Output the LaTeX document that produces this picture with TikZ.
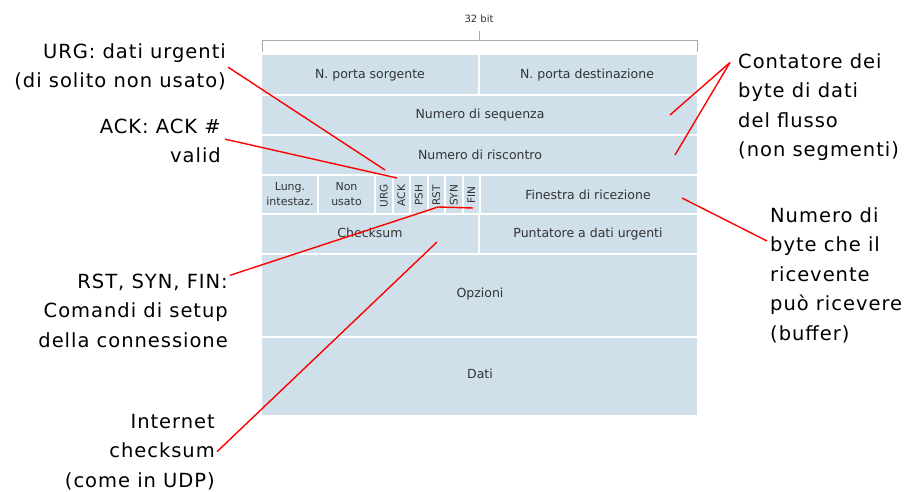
\documentclass[tikz,border=0pt]{standalone}
\usepackage{fontspec}
\newfontfamily\lblfont[LetterSpace=5]{DejaVu Sans}
\newfontfamily\cellfont{DejaVu Sans}
\definecolor{cellblue}{HTML}{CFE0EA}
\definecolor{celltext}{HTML}{333333}
\definecolor{bracketgray}{HTML}{AAAAAA}
\begin{document}
\begin{tikzpicture}[x=1pt,y=-1pt,
  cell/.style={font=\cellfont\fontsize{12.5}{14}\selectfont, text=celltext, inner sep=0},
  smallcell/.style={font=\cellfont\fontsize{11}{15}\selectfont, text=celltext, inner sep=0, align=center},
  flag/.style={font=\cellfont\fontsize{10.5}{11}\selectfont, text=celltext, rotate=90, inner sep=0},
  sep/.style={white, line width=2pt},
  callout/.style={red, line width=1.4pt},
  lbl/.style={font=\lblfont\fontsize{19.5}{29.5}\selectfont, inner sep=0, text=black}
]
\useasboundingbox (0,0) rectangle (911,492);

% segment body
\fill[cellblue] (262,55) rectangle (697,415);
\foreach \y in {95,135,175,214,254,337} \draw[sep] (262,\y) -- (697,\y);
\draw[sep] (479,55) -- (479,95);
\draw[sep] (479,214) -- (479,254);
\foreach \x in {318,375,392.5,410,427.5,445,462.5,480} \draw[sep] (\x,175) -- (\x,214);

% 32-bit width bracket
\draw[bracketgray, line width=0.8pt] (262,52) -- (262,40) -- (697,40) -- (697,52);
\draw[bracketgray, line width=0.8pt] (479,40) -- (479,31);
\node[font=\cellfont\fontsize{10}{11}\selectfont, text=celltext, inner sep=0] (width) at (479,19) {32 bit};

% header fields
\node[cell] (srcport) at (370,75) {N. porta sorgente};
\node[cell] (dstport) at (587,75) {N. porta destinazione};
\node[cell] (seq) at (480,115) {Numero di sequenza};
\node[cell] (ackno) at (480,155) {Numero di riscontro};
\node[smallcell] (hlen) at (290,194.5) {Lung.\\intestaz.};
\node[smallcell] (unused) at (346.5,194.5) {Non\\usato};
\node[flag] (furg) at (383.75,195.5) {URG};
\node[flag] (fack) at (401.25,195.5) {ACK};
\node[flag] (fpsh) at (418.75,195.5) {PSH};
\node[flag] (frst) at (436.25,195.5) {RST};
\node[flag] (fsyn) at (453.75,195.5) {SYN};
\node[flag] (ffin) at (471.25,195.5) {FIN};
\node[cell] (rwnd) at (588,195) {Finestra di ricezione};
\node[cell] (csum) at (370,233) {Checksum};
\node[cell] (urgptr) at (588,234) {Puntatore a dati urgenti};
\node[cell] (opts) at (480,294) {Opzioni};
\node[cell] (data) at (480,374) {Dati};

% callout labels (anchored on the baseline of their last line)
\node[lbl, align=right, anchor=base east] (urglbl) at (226,88) {URG: dati urgenti\\(di solito non usato)};
\node[lbl, align=right, anchor=base east] (acklbl) at (221,163) {ACK: ACK \#\\valid};
\node[lbl, align=right, anchor=base east] (rstlbl) at (228,347) {RST, SYN, FIN:\\Comandi di setup\\della connessione};
\node[lbl, align=right, anchor=base east] (chklbl) at (215,487) {Internet\\checksum\\(come in UDP)};
\node[lbl, align=left, anchor=base west] (cntlbl) at (738,157) {Contatore dei\\byte di dati\\del flusso\\(non segmenti)};
\node[lbl, align=left, anchor=base west] (winlbl) at (770,340) {Numero di\\byte che il\\ricevente\\può ricevere\\(buffer)};

% pointer tips
\coordinate (urgtip) at (385,170);
\coordinate (acktip) at (397,178);
\coordinate (rstbend) at (438,207);
\coordinate (rsttip) at (473,208);
\coordinate (chktip) at (437,242);
\coordinate (seqtip) at (670,115);
\coordinate (acknotip) at (675,155);
\coordinate (wintip) at (682,198);

% callout lines
\draw[callout] ([xshift=2pt]urglbl.east) -- (urgtip);
\draw[callout] ([xshift=4pt,yshift=2pt]acklbl.east) -- (acktip);
\draw[callout] ([xshift=2pt,yshift=-2pt]rstlbl.north east) -- (rstbend) -- (rsttip);
\draw[callout] ([xshift=2pt]chklbl.east) -- (chktip);
\draw[callout] ([xshift=-8pt,yshift=-9pt]cntlbl.north west) -- (seqtip);
\draw[callout] ([xshift=-8pt,yshift=-9pt]cntlbl.north west) -- (acknotip);
\draw[callout] ([xshift=-3pt,yshift=-34pt]winlbl.north west) -- (wintip);
\end{tikzpicture}
\end{document}
